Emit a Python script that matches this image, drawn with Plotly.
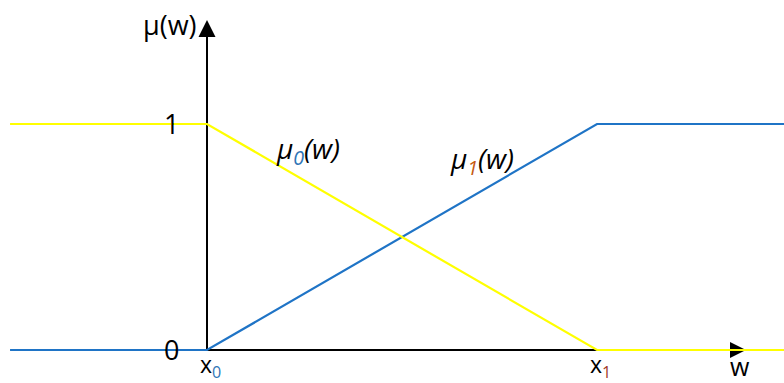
import plotly.graph_objects as go

# Membership functions of two fuzzy sets over w, with breakpoints x0 and x1
w_points = [-0.505, 0.0, 1.0, 1.48]
mu0_values = [1, 1, 0, 0]
mu1_values = [0, 0, 1, 1]

x_labels = ["x<sub><span style='color:#2e75b6'>0</span></sub>",
            "x<sub><span style='color:#a0392a'>1</span></sub>"]
x_label_pos = [0.0, 1.0]
y_labels = ["0", "1"]
y_label_pos = [0, 1]

W, H = 784, 383
X_RANGE = [-207 / 390, 577 / 390]
Y_RANGE = [-33 / 226, 350 / 226]
sx = (X_RANGE[1] - X_RANGE[0]) / W   # data units per pixel (x)
sy = (Y_RANGE[1] - Y_RANGE[0]) / H   # data units per pixel (y)

BLUE = "#1f74c6"
YELLOW = "#ffff00"
FONT = "Open Sans"


def font(size):
    return dict(family=FONT, size=size, color="black")


fig = go.Figure()
fig.add_trace(go.Scatter(x=w_points, y=mu1_values, mode="lines",
                         line=dict(color=BLUE, width=2.2), hoverinfo="skip"))
fig.add_trace(go.Scatter(x=w_points, y=mu0_values, mode="lines",
                         line=dict(color=YELLOW, width=2.2), hoverinfo="skip"))

# Axes with arrow heads
y_top = 0 + 313 * sy          # base of the vertical arrow head
x_end = 0 + 523 * sx          # base of the horizontal arrow head
shapes = [
    dict(type="line", x0=0, y0=0, x1=0, y1=y_top, line=dict(color="black", width=2), layer="below"),
    dict(type="line", x0=0, y0=0, x1=x_end, y1=0, line=dict(color="black", width=2), layer="below"),
    dict(type="path",
         path=f"M {-8.5*sx},{y_top} L {8.5*sx},{y_top} L 0,{y_top + 17*sy} Z",
         fillcolor="black", line=dict(width=0), layer="below"),
    dict(type="path",
         path=f"M {x_end},{8*sy} L {x_end},{-8*sy} L {x_end + 16*sx},0 Z",
         fillcolor="black", line=dict(width=0), layer="below"),
]

annotations = []
for lab, pos in zip(y_labels, y_label_pos):
    annotations.append(dict(x=-36 * sx, y=pos + 1 * sy, text=lab, showarrow=False,
                            font=font(27)))
for lab, pos in zip(x_labels, x_label_pos):
    annotations.append(dict(x=pos + 3 * sx, y=-15 * sy, text=lab, showarrow=False,
                            font=font(23)))
annotations += [
    dict(x=533 * sx, y=-16 * sy, text="w", showarrow=False, font=font(25)),
    dict(x=-37 * sx, y=326 * sy, text="μ(w)", showarrow=False, font=font(27)),
    dict(x=101 * sx, y=200 * sy,
         text="<i>μ<sub><span style='color:#2e75b6'>0</span></sub>(w)</i>", showarrow=False,
         font=font(28)),
    dict(x=275 * sx, y=190 * sy,
         text="<i>μ<sub><span style='color:#c55a11'>1</span></sub>(w)</i>", showarrow=False,
         font=font(28)),
]

fig.update_layout(
    width=W, height=H,
    margin=dict(l=0, r=0, t=0, b=0),
    paper_bgcolor="white", plot_bgcolor="white",
    showlegend=False,
    xaxis=dict(range=X_RANGE, visible=False, fixedrange=True),
    yaxis=dict(range=Y_RANGE, visible=False, fixedrange=True),
    shapes=shapes, annotations=annotations,
)

fig.write_html("out.html")
